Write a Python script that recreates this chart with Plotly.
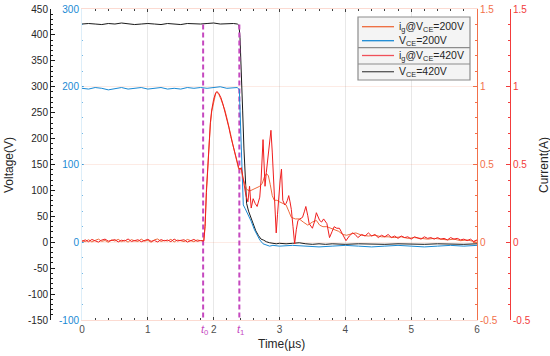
import plotly.graph_objects as go

# ---------------- data ----------------
# V_CE = 420 V (left black axis, V)
t_v420 = [0.0, 0.1, 0.2, 0.3, 0.4, 0.5, 0.6, 0.7, 0.8, 0.9,
          1.0, 1.1, 1.2, 1.3, 1.4, 1.5, 1.6, 1.7, 1.8, 1.9,
          2.0, 2.1, 2.2, 2.3, 2.36, 2.385, 2.40, 2.42, 2.44, 2.46,
          2.48, 2.50, 2.53, 2.56, 2.60, 2.64, 2.68, 2.72, 2.76, 2.80,
          2.85, 2.90, 2.95, 3.0, 3.1, 3.2, 3.3, 3.4, 3.5, 3.6,
          3.7, 3.8, 3.9, 4.0, 4.2, 4.4, 4.6, 4.8, 5.0, 5.2,
          5.4, 5.6, 5.8, 6.0]
v_420 = [421, 422, 421, 420, 422, 421, 423, 421, 420, 421,
         422, 421, 420, 422, 421, 420, 422, 421, 421, 422,
         423, 421, 422, 422, 421, 418, 395, 340, 255, 180,
         110, 75, 60, 50, 35, 22, 13, 6, 4, 1,
         -1, -2, -3, -2, -3, -2, -1, -3, -4, -3,
         -4, -3, -4, -4, -3, -4, -4, -3, -4, -4,
         -3, -4, -4, -3]

# V_CE = 200 V (inner blue axis, V)
t_v200 = [0.0, 0.1, 0.2, 0.3, 0.4, 0.5, 0.6, 0.7, 0.8, 0.9,
          1.0, 1.1, 1.2, 1.3, 1.4, 1.5, 1.6, 1.7, 1.8, 1.9,
          2.0, 2.1, 2.2, 2.3, 2.36, 2.39, 2.41, 2.43, 2.45, 2.48,
          2.52, 2.57, 2.62, 2.67, 2.70, 2.75, 2.80, 2.85, 2.9, 3.0,
          3.2, 3.4, 3.6, 3.8, 4.0, 4.2, 4.4, 4.6, 4.8, 5.0,
          5.2, 5.4, 5.6, 5.8, 6.0]
v_200 = [198, 197, 199, 198, 196, 198, 199, 197, 198, 199,
         197, 198, 199, 197, 198, 197, 199, 198, 199, 198,
         199, 200, 198, 199, 199, 196, 150, 90, 48, 43,
         36, 27, 16, 7, 3, -2, -4, -5, -4, -5,
         -4, -5, -6, -5, -4, -5, -6, -5, -4, -5,
         -6, -5, -4, -5, -4]

# i_g @ V_CE = 200 V (inner right axis, A)
t_i200 = [0.00, 0.05, 0.10, 0.15, 0.20, 0.25, 0.30, 0.35, 0.40, 0.45,
          0.50, 0.55, 0.60, 0.65, 0.70, 0.75, 0.80, 0.85, 0.90, 0.95,
          1.00, 1.05, 1.10, 1.15, 1.20, 1.25, 1.30, 1.35, 1.40, 1.45,
          1.50, 1.55, 1.60, 1.65, 1.70, 1.75, 1.80, 1.85, 1.87, 1.89,
          1.91, 1.93, 1.95, 1.97, 2.00, 2.03, 2.05, 2.08, 2.11, 2.14,
          2.17, 2.20, 2.23, 2.26, 2.29, 2.32, 2.35, 2.38, 2.40, 2.42,
          2.44, 2.46, 2.50, 2.55, 2.60, 2.65, 2.70, 2.74, 2.77, 2.80,
          2.83, 2.86, 2.89, 2.92, 2.96, 3.00, 3.05, 3.10, 3.14, 3.18,
          3.24, 3.30, 3.36, 3.43, 3.50, 3.56, 3.61, 3.66, 3.72, 3.78,
          3.84, 3.90, 3.96, 4.02, 4.10, 4.16, 4.25, 4.35, 4.45, 4.55,
          4.65, 4.75, 4.85, 4.95, 5.05, 5.15, 5.25, 5.35, 5.45, 5.55,
          5.65, 5.75, 5.85, 5.95, 6.00]
i_200 = [0.010, 0.004, 0.016, 0.002, 0.012, 0.020, 0.006, 0.011, 0.000, 0.015,
         0.008, 0.019, 0.004, 0.013, 0.001, 0.017, 0.009, 0.005, 0.020, 0.007,
         0.012, 0.000, 0.016, 0.021, 0.005, 0.012, 0.008, 0.019, 0.002, 0.014,
         0.010, 0.004, 0.018, 0.009, 0.003, 0.015, 0.010, 0.010, 0.12, 0.34,
         0.51, 0.65, 0.76, 0.84, 0.91, 0.955, 0.965, 0.95, 0.92, 0.89,
         0.85, 0.80, 0.75, 0.69, 0.63, 0.57, 0.52, 0.47, 0.47, 0.47,
         0.42, 0.39, 0.34, 0.33, 0.34, 0.35, 0.36, 0.38, 0.42, 0.44,
         0.43, 0.37, 0.30, 0.27, 0.27, 0.26, 0.25, 0.24, 0.20, 0.16,
         0.15, 0.15, 0.13, 0.11, 0.13, 0.14, 0.11, 0.10, 0.10, 0.09,
         0.08, 0.07, 0.05, 0.045, 0.055, 0.06, 0.045, 0.04, 0.045, 0.035,
         0.035, 0.03, 0.035, 0.025, 0.03, 0.025, 0.02, 0.025, 0.02, 0.015,
         0.02, 0.01, 0.015, 0.005, 0.01]

# i_g @ V_CE = 420 V (outer right axis, A)
t_i420 = [0.00, 0.05, 0.10, 0.15, 0.20, 0.25, 0.30, 0.35, 0.40, 0.45,
          0.50, 0.55, 0.60, 0.65, 0.70, 0.75, 0.80, 0.85, 0.90, 0.95,
          1.00, 1.05, 1.10, 1.15, 1.20, 1.25, 1.30, 1.35, 1.40, 1.45,
          1.50, 1.55, 1.60, 1.65, 1.70, 1.75, 1.80, 1.85, 1.87, 1.89,
          1.91, 1.93, 1.95, 1.97, 2.00, 2.03, 2.05, 2.08, 2.11, 2.14,
          2.17, 2.20, 2.23, 2.26, 2.29, 2.32, 2.35, 2.38, 2.40, 2.42,
          2.44, 2.46, 2.49, 2.52, 2.545, 2.57, 2.60, 2.63, 2.66, 2.70,
          2.72, 2.75, 2.765, 2.78, 2.80, 2.82, 2.845, 2.87, 2.89, 2.91,
          2.93, 2.95, 2.97, 2.985, 3.01, 3.03, 3.05, 3.08, 3.10, 3.12,
          3.14, 3.16, 3.18, 3.205, 3.23, 3.255, 3.28, 3.31, 3.35, 3.38,
          3.40, 3.43, 3.45, 3.50, 3.53, 3.56, 3.59, 3.61, 3.64, 3.67,
          3.72, 3.76, 3.80, 3.83, 3.87, 3.91, 3.96, 4.01, 4.06, 4.11,
          4.15, 4.19, 4.25, 4.30, 4.35, 4.40, 4.45, 4.50, 4.55, 4.60,
          4.65, 4.70, 4.75, 4.80, 4.85, 4.90, 4.95, 5.00, 5.05, 5.10,
          5.15, 5.20, 5.25, 5.30, 5.35, 5.40, 5.45, 5.50, 5.55, 5.60,
          5.65, 5.70, 5.75, 5.80, 5.85, 5.90, 5.95, 6.00]
i_420 = [0.006, 0.015, 0.003, 0.018, 0.009, 0.001, 0.014, 0.020, 0.007, 0.011,
         0.017, 0.002, 0.013, 0.008, 0.021, 0.005, 0.012, 0.016, 0.003, 0.010,
         0.019, 0.006, 0.011, 0.002, 0.017, 0.009, 0.014, 0.004, 0.020, 0.008,
         0.013, 0.016, 0.001, 0.012, 0.018, 0.006, 0.011, 0.008, 0.10, 0.32,
         0.50, 0.66, 0.77, 0.85, 0.92, 0.96, 0.97, 0.955, 0.93, 0.89,
         0.84, 0.80, 0.74, 0.68, 0.63, 0.58, 0.52, 0.48, 0.47, 0.48,
         0.43, 0.38, 0.30, 0.26, 0.36, 0.22, 0.28, 0.25, 0.23, 0.29,
         0.40, 0.66, 0.50, 0.36, 0.45, 0.53, 0.64, 0.72, 0.58, 0.42,
         0.20, 0.06, 0.18, 0.29, 0.40, 0.47, 0.27, 0.24, 0.25, 0.27,
         0.30, 0.26, 0.21, 0.10, -0.01, 0.08, 0.14, 0.15, 0.16, 0.20,
         0.23, 0.17, 0.12, 0.09, 0.13, 0.19, 0.16, 0.14, 0.13, 0.15,
         0.12, 0.03, 0.07, 0.10, 0.09, 0.09, 0.05, 0.01, 0.04, 0.06,
         0.05, 0.03, 0.05, 0.04, 0.06, 0.04, 0.05, 0.03, 0.045, 0.035,
         0.05, 0.03, 0.04, 0.025, 0.04, 0.03, 0.035, 0.02, 0.035, 0.03,
         0.02, 0.035, 0.025, 0.03, 0.02, 0.03, 0.02, 0.025, 0.015, 0.03,
         0.02, 0.025, 0.015, 0.02, 0.01, 0.02, 0.005, 0.015]

# switching instants t0, t1 (us) and the voltage span of their markers
t_marks = [1.84, 2.39]
t_mark_names = ["0", "1"]
mark_span = [420, -150]

# axis ticks
x_ticks = [0, 1, 2, 3, 4, 5, 6]
v_ticks = [-150, -100, -50, 0, 50, 100, 150, 200, 250, 300, 350, 400, 450]
vb_ticks = [-100, 0, 100, 200, 300]
i_ticks = [-0.5, 0, 0.5, 1, 1.5]

legend_names = ["i<sub>g</sub>@V<sub>CE</sub>=200V", "V<sub>CE</sub>=200V",
                "i<sub>g</sub>@V<sub>CE</sub>=420V", "V<sub>CE</sub>=420V"]

# ---------------- style ----------------
W, H = 550, 356
FONT = "Liberation Sans, Arial, sans-serif"
BLACK = "#1a1a1a"
BLUE = "#1a8ad4"
ORANGE = "#ee6a3c"
RED = "#f01e1e"
ORANGE_AX = "#f2704a"
RED_AX = "#f23c3c"
MAGENTA = "#c548bf"

def fx(p):
    return p / W

def fy(p):
    return 1 - p / H

X0, X1, YT, YB = 82, 477, 9, 320
ydom = [fy(YB), fy(YT)]

def lbl(v):
    return "%g" % v

fig = go.Figure()
fig.add_trace(go.Scatter(x=t_i200, y=i_200, yaxis="y3", mode="lines",
                         line=dict(color=ORANGE, width=1), showlegend=False, name=legend_names[0]))
fig.add_trace(go.Scatter(x=t_v200, y=v_200, yaxis="y2", mode="lines",
                         line=dict(color=BLUE, width=1), showlegend=False, name=legend_names[1]))
fig.add_trace(go.Scatter(x=t_i420, y=i_420, yaxis="y4", mode="lines",
                         line=dict(color=RED, width=1), showlegend=False, name=legend_names[2]))
fig.add_trace(go.Scatter(x=t_v420, y=v_420, yaxis="y", mode="lines",
                         line=dict(color=BLACK, width=1), showlegend=False, name=legend_names[3]))
for tm in t_marks:
    fig.add_trace(go.Scatter(x=[tm, tm], y=mark_span, yaxis="y", mode="lines",
                             line=dict(color=MAGENTA, width=2, dash="5px,3px"),
                             showlegend=False, hoverinfo="skip"))

fig.update_layout(
    width=W, height=H,
    margin=dict(l=0, r=0, t=0, b=0, autoexpand=False),
    paper_bgcolor="white", plot_bgcolor="white",
    font=dict(family=FONT, size=10, color="#262626"),
    showlegend=False,
    xaxis=dict(domain=[fx(X0), fx(X1)], range=[0, 6], tickmode="array",
               tickvals=x_ticks, ticktext=[lbl(v) for v in x_ticks],
               ticks="inside", ticklen=3, tickcolor="#404040", automargin=False,
               tickfont=dict(family=FONT, size=10, color="#4d4d4d"),
               showgrid=True, gridcolor="#e8e8e8", gridwidth=1,
               showline=True, linecolor="rgba(242,112,74,0.25)", mirror="ticks",
               zeroline=False,
               minor=dict(ticks="inside", ticklen=2, tickmode="linear", tick0=0,
                          dtick=0.2, tickcolor="#404040", showgrid=False)),
    yaxis=dict(domain=ydom, range=[-150, 450], anchor="free", position=fx(50),
               side="left", tickmode="array", tickvals=v_ticks, automargin=False,
               ticktext=[lbl(v) for v in v_ticks],
               ticks="inside", ticklen=4, tickcolor=BLACK,
               tickfont=dict(family=FONT, size=10, color="#262626"),
               showline=True, linecolor=BLACK, linewidth=1,
               showgrid=False, zeroline=False,
               minor=dict(ticks="inside", ticklen=2, tickmode="linear", tick0=0,
                          dtick=10, tickcolor=BLACK, showgrid=False)),
    yaxis2=dict(domain=ydom, range=[-100, 300], overlaying="y", anchor="x",
                side="left", tickmode="array", tickvals=vb_ticks, automargin=False,
                ticktext=[lbl(v) for v in vb_ticks],
                ticks="inside", ticklen=2, tickcolor="rgba(26,138,212,0.6)",
                tickfont=dict(family=FONT, size=10, color=BLUE),
                showline=True, linecolor="rgba(26,138,212,0.15)",
                showgrid=False, zeroline=False,
                minor=dict(ticks="inside", ticklen=1, tickmode="linear", tick0=0,
                           dtick=20, tickcolor="rgba(26,138,212,0.6)", showgrid=False)),
    yaxis3=dict(domain=ydom, range=[-0.5, 1.5], overlaying="y", anchor="x",
                side="right", tickmode="array", tickvals=i_ticks, automargin=False,
                ticktext=[lbl(v) for v in i_ticks],
                ticks="inside", ticklen=4, tickcolor=ORANGE_AX,
                tickfont=dict(family=FONT, size=10, color=ORANGE_AX),
                showline=True, linecolor=ORANGE_AX,
                showgrid=True, gridcolor="rgba(242,112,74,0.14)", gridwidth=1,
                zeroline=False,
                minor=dict(ticks="inside", ticklen=2, tickmode="linear", tick0=0,
                           dtick=0.1, tickcolor=ORANGE_AX, showgrid=False)),
    yaxis4=dict(domain=ydom, range=[-0.5, 1.5], overlaying="y", anchor="free",
                position=fx(510), side="right", tickmode="array", tickvals=i_ticks,
                ticktext=[lbl(v) for v in i_ticks], automargin=False,
                ticks="inside", ticklen=4, tickcolor=RED_AX,
                tickfont=dict(family=FONT, size=10, color=RED_AX),
                showline=True, linecolor=RED_AX,
                showgrid=False, zeroline=False,
                minor=dict(ticks="inside", ticklen=2, tickmode="linear", tick0=0,
                           dtick=0.1, tickcolor=RED_AX, showgrid=False)),
)

ann = []
# axis titles
ann.append(dict(text="Voltage(V)", x=fx(9), y=fy(165), xref="paper", yref="paper",
                xanchor="center", yanchor="middle",
                textangle=-90, showarrow=False, font=dict(family=FONT, size=12, color="#262626")))
ann.append(dict(text="Current(A)", x=fx(544), y=fy(165), xref="paper", yref="paper",
                xanchor="center", yanchor="middle",
                textangle=-90, showarrow=False, font=dict(family=FONT, size=12, color="#262626")))
ann.append(dict(text="Time(µs)", x=fx(281), y=fy(344), xref="paper", yref="paper",
                xanchor="center", yanchor="middle",
                showarrow=False, font=dict(family=FONT, size=12, color="#262626")))
# t0 / t1 labels
for tm, nm in zip(t_marks, t_mark_names):
    ann.append(dict(text="<i>t</i><sub>%s</sub>" % nm, x=tm, y=fy(YB), xref="x", yref="paper",
                    xanchor="center", yanchor="top", xshift=1, yshift=-1, showarrow=False,
                    font=dict(family=FONT, size=11, color=MAGENTA)))

# legend (drawn as a boxed key)
LX0, LX1, LY0, LY1 = 358, 470, 17, 80
shapes = [dict(type="rect", xref="paper", yref="paper", x0=fx(LX0), x1=fx(LX1),
               y0=fy(LY1), y1=fy(LY0), line=dict(color="#8c8c8c", width=1.2),
               fillcolor="#f4f4f4", layer="above")]
for sy in [47.7, 64]:
    shapes.append(dict(type="line", xref="paper", yref="paper", x0=fx(LX0), x1=fx(LX1),
                       y0=fy(sy), y1=fy(sy), line=dict(color="#8c8c8c", width=1.2), layer="above"))
row_y = [26.7, 40.7, 55.5, 71.7]
row_col = [ORANGE, BLUE, "#f0505a", "#555555"]
for ry, col, nm in zip(row_y, row_col, legend_names):
    shapes.append(dict(type="line", xref="paper", yref="paper", x0=fx(362), x1=fx(394),
                       y0=fy(ry), y1=fy(ry), line=dict(color=col, width=1.3), layer="above"))
    ann.append(dict(text=nm, x=fx(397), y=fy(ry), xref="paper", yref="paper",
                    xanchor="left", yanchor="middle", showarrow=False,
                    font=dict(family=FONT, size=10.5, color="#262626")))

fig.update_layout(annotations=ann, shapes=shapes)
fig.write_html("out.html", config={"displayModeBar": False},
               post_script="document.body.style.margin='0px';document.body.style.overflow='hidden';")
